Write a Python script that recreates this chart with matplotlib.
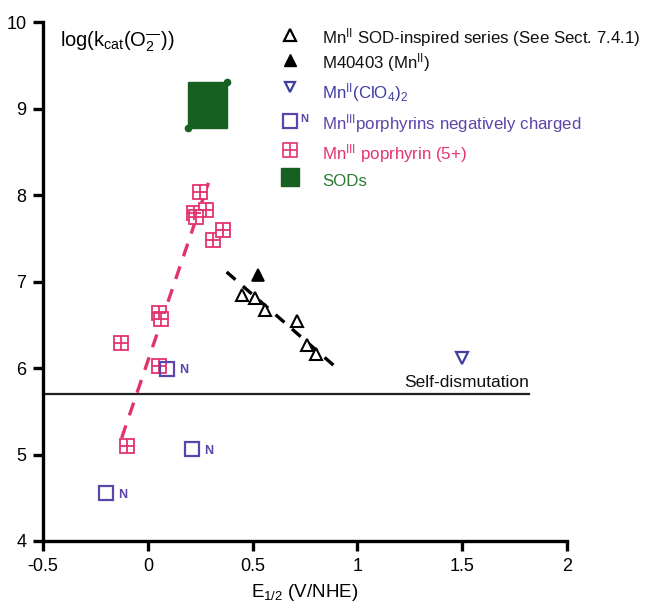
import matplotlib
matplotlib.use("Agg")
import matplotlib.pyplot as plt
from matplotlib.patches import Rectangle

plt.rcParams['font.family'] = ['Liberation Sans', 'DejaVu Sans']
plt.rcParams['mathtext.fontset'] = 'custom'
plt.rcParams['mathtext.rm'] = 'Liberation Sans'
plt.rcParams['mathtext.it'] = 'Liberation Sans:italic'
plt.rcParams['mathtext.bf'] = 'Liberation Sans:bold'

# ---- data ----
# Mn(II) SOD-inspired series (open triangles)
mn2_x = [0.448, 0.511, 0.559, 0.71, 0.761, 0.80]
mn2_y = [6.84, 6.81, 6.67, 6.54, 6.27, 6.16]
# M40403 (filled triangle)
m40403_x = [0.524]
m40403_y = [7.08]
# Mn(II)(ClO4)2 (down triangle)
clo4_x = [1.50]
clo4_y = [6.11]
# Mn(III) porphyrins negatively charged (open squares, "N")
neg_x = [0.09, 0.21, -0.20]
neg_y = [5.99, 5.06, 4.55]
# Mn(III) porphyrin (5+) (grid squares)
por_x = [0.249, 0.222, 0.278, 0.23, 0.31, 0.36, 0.053, 0.061, -0.128, 0.055, -0.10]
por_y = [8.04, 7.79, 7.83, 7.75, 7.48, 7.59, 6.64, 6.57, 6.29, 6.02, 5.10]
# SODs range (filled rectangle)
sod_x = [0.19, 0.38]
sod_y = [8.77, 9.31]
# trend lines
trend_mn2_x = [0.376, 0.901]
trend_mn2_y = [7.11, 6.00]
trend_por_x = [-0.125, 0.289]
trend_por_y = [5.19, 8.14]
# self-dismutation level
self_dism_y = 5.70
self_dism_x = [-0.5, 1.82]

xticks = [-0.5, 0, 0.5, 1, 1.5, 2]
xticklabels = ['-0.5', '0', '0.5', '1', '1.5', '2']
yticks = [4, 5, 6, 7, 8, 9, 10]

PINK = '#E3336F'
PURPLE = '#5B45A8'
BLUE = '#3F3FA0'
GREEN = '#185F22'
GREEN_TXT = '#2E7A35'

fig = plt.figure(figsize=(6.49, 6.08), dpi=100)
ax = fig.add_axes([0.0663, 0.1102, 0.8074, 0.8536])
ax.set_xlim(-0.5, 2)
ax.set_ylim(4, 10)

# SOD rectangle
ax.add_patch(Rectangle((sod_x[0], sod_y[0]), sod_x[1] - sod_x[0], sod_y[1] - sod_y[0],
                       facecolor=GREEN, edgecolor=GREEN, zorder=2))
ax.plot(sod_x, sod_y, 'o', color=GREEN, ms=4.5, zorder=2, ls='none')

# self-dismutation line
ax.plot(self_dism_x, [self_dism_y, self_dism_y], color='#222222', lw=1.6, zorder=1)
ax.text(self_dism_x[1], self_dism_y + 0.05, 'Self-dismutation', ha='right', va='bottom',
        fontsize=12.5, color='#111111')

# trend lines
ax.plot(trend_mn2_x, trend_mn2_y, color='black', lw=2.4, ls=(0, (3.5, 3)), zorder=3)
ax.plot(trend_por_x, trend_por_y, color=PINK, lw=2.4, ls=(0, (4, 3.2)), zorder=3)

# porphyrin 5+ markers (square with cross)
ax.plot(por_x, por_y, 's', mfc='white', mec=PINK, ms=10, mew=1.3, ls='none', zorder=4)
ax.plot(por_x, por_y, '+', mec=PINK, ms=10, mew=1.3, ls='none', zorder=4)

# negatively charged porphyrins
ax.plot(neg_x, neg_y, 's', mfc='none', mec=PURPLE, ms=10, mew=1.6, ls='none', zorder=4)
for xv, yv in zip(neg_x, neg_y):
    ax.annotate('N', (xv, yv), xytext=(9, -1), textcoords='offset points',
                ha='left', va='center', fontsize=9, fontweight='bold', color=PURPLE)

# Mn(II) series
ax.plot(mn2_x, mn2_y, '^', mfc='white', mec='black', ms=9, mew=1.5, ls='none', zorder=5)
ax.plot(m40403_x, m40403_y, '^', mfc='black', mec='black', ms=9, mew=1.2, ls='none', zorder=5)
ax.plot(clo4_x, clo4_y, 'v', mfc='white', mec=BLUE, ms=8, mew=1.6, ls='none', zorder=5)

# axes styling
for s in ['top', 'right']:
    ax.spines[s].set_visible(False)
for s in ['left', 'bottom']:
    ax.spines[s].set_linewidth(2.4)
ax.set_xticks(xticks)
ax.set_xticklabels(xticklabels)
ax.set_yticks(yticks)
ax.tick_params(direction='out', length=7, width=2.4, labelsize=13, pad=5)
ax.set_xlabel(r'E$_{\mathregular{1/2}}$ (V/NHE)', fontsize=13.5, labelpad=5)
ax.text(0.033, 0.985, r'log(k$_{\mathregular{cat}}$(O$_{\mathregular{2}}^{\mathregular{—}}$))',
        transform=ax.transAxes, ha='left', va='top', fontsize=14.5)

# legend (manual)
leg_marker_x = (290 - 43) / (567 - 43)
leg_text_x = (322 - 43) / (567 - 43)
ys_px = [38, 63, 93, 124, 154, 181]
leg_y = [(541 - p) / (541 - 22) for p in ys_px]
labels = [r'Mn$^{\mathregular{II}}$ SOD-inspired series (See Sect. 7.4.1)',
          r'M40403 (Mn$^{\mathregular{II}}$)',
          r'Mn$^{\mathregular{II}}$(ClO$_{\mathregular{4}}$)$_{\mathregular{2}}$',
          r'Mn$^{\mathregular{III}}$porphyrins negatively charged',
          r'Mn$^{\mathregular{III}}$ poprhyrin (5+)',
          'SODs']
colors = ['#111111', '#111111', BLUE, PURPLE, PINK, GREEN_TXT]
for lab, col, yy in zip(labels, colors, leg_y):
    ax.text(leg_text_x, yy, lab, transform=ax.transAxes, ha='left', va='center',
            fontsize=12.2, color=col)
tr = ax.transAxes
ax.plot([leg_marker_x], [leg_y[0] + 0.006], '^', mfc='white', mec='black', ms=8, mew=1.6,
        transform=tr, clip_on=False)
ax.plot([leg_marker_x], [leg_y[1] + 0.006], '^', mfc='black', mec='black', ms=8,
        transform=tr, clip_on=False)
ax.plot([leg_marker_x], [leg_y[2] + 0.012], 'v', mfc='white', mec=BLUE, ms=7, mew=1.6,
        transform=tr, clip_on=False)
ax.plot([leg_marker_x], [leg_y[3] + 0.006], 's', mfc='none', mec=PURPLE, ms=9.5, mew=1.6,
        transform=tr, clip_on=False)
ax.text(leg_marker_x + 0.02, leg_y[3] + 0.01, 'N', transform=tr, ha='left', va='center',
        fontsize=8, fontweight='bold', color=PURPLE)
ax.plot([leg_marker_x], [leg_y[4] + 0.008], 's', mfc='white', mec=PINK, ms=9.5, mew=1.2,
        transform=tr, clip_on=False)
ax.plot([leg_marker_x], [leg_y[4] + 0.008], '+', mec=PINK, ms=9.5, mew=1.2,
        transform=tr, clip_on=False)
ax.plot([leg_marker_x], [leg_y[5] + 0.008], 's', mfc=GREEN, mec=GREEN, ms=13,
        transform=tr, clip_on=False)

fig.savefig('out.png', dpi=100)
